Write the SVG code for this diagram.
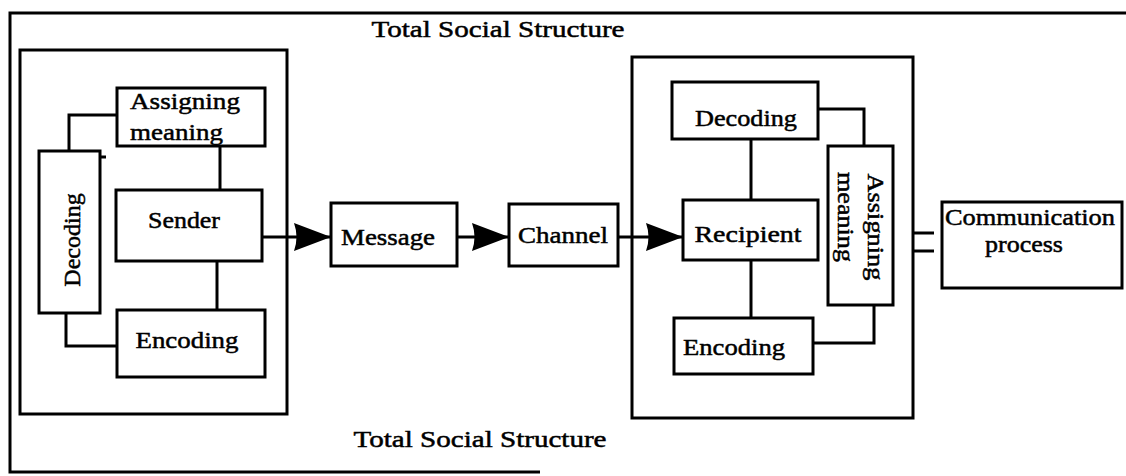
<svg xmlns="http://www.w3.org/2000/svg" width="1126" height="476" viewBox="0 0 1126 476">
<style>
.box{fill:#fff;stroke:#000;stroke-width:3}
.frame{fill:none;stroke:#000;stroke-width:3}
.ln{fill:none;stroke:#000;stroke-width:3}
.t{font-family:"Liberation Serif","Times New Roman",serif;font-size:24px;fill:#000;stroke:#000;stroke-width:0.5}
.c{text-anchor:middle}
</style>
<defs>
<marker id="ah" markerUnits="userSpaceOnUse" markerWidth="40" markerHeight="30" refX="38" refY="15" orient="auto">
<path d="M1,1 L38,15 L1,29 Q6,15 1,1 Z" fill="#000"/>
</marker>
</defs>
<rect width="1126" height="476" fill="#fff"/>
<g id="outer-frame">
<path class="frame" d="M1126,13 L10,13 L10,472 L540,472"/>
<text class="t c" x="498" y="37" font-size="21" textLength="253" lengthAdjust="spacingAndGlyphs">Total Social Structure</text>
<text class="t c" x="480" y="447" font-size="21" textLength="253" lengthAdjust="spacingAndGlyphs">Total Social Structure</text>
</g>
<g id="sender-structure">
<rect class="frame" x="20" y="50" width="267" height="364"/>
</g>
<g id="recipient-structure">
<rect class="frame" x="632" y="57" width="281" height="361"/>
</g>
<g id="connectors">
<path class="ln" d="M69,151 L69,115 L117,115"/>
<path class="ln" d="M66,313 L66,346 L117,346"/>
<path class="ln" d="M220,146 L220,190"/>
<path class="ln" d="M217,261 L217,310"/>
<path class="ln" d="M100,157 L106,157"/>
<path class="ln" d="M262,237 L331,237" marker-end="url(#ah)"/>
<path class="ln" d="M457,237 L509,237" marker-end="url(#ah)"/>
<path class="ln" d="M618,237 L683,237" marker-end="url(#ah)"/>
<path class="ln" d="M751,139 L751,200"/>
<path class="ln" d="M751,260 L751,318"/>
<path class="ln" d="M818,109 L864,109 L864,146"/>
<path class="ln" d="M874,305 L874,343 L813,343"/>
<path class="ln" d="M913,233 L934,233"/>
<path class="ln" d="M913,251 L934,251"/>
</g>
<g id="sender-assigning">
<rect class="box" x="117" y="88" width="148" height="58"/>
<text class="t" x="130" y="109" textLength="110" lengthAdjust="spacingAndGlyphs">Assigning</text>
<text class="t" x="130" y="140" textLength="93" lengthAdjust="spacingAndGlyphs">meaning</text>
</g>
<g id="sender-decoding">
<rect class="box" x="39" y="151" width="61" height="162"/>
<text class="t c" transform="translate(80,240) rotate(-90)" x="0" y="0">Decoding</text>
</g>
<g id="sender">
<rect class="box" x="116" y="190" width="146" height="71"/>
<text class="t c" x="184" y="228" textLength="72" lengthAdjust="spacingAndGlyphs">Sender</text>
</g>
<g id="sender-encoding">
<rect class="box" x="117" y="310" width="148" height="67"/>
<text class="t c" x="187" y="348" textLength="103" lengthAdjust="spacingAndGlyphs">Encoding</text>
</g>
<g id="message">
<rect class="box" x="331" y="203" width="126" height="63"/>
<text class="t c" x="388" y="245" textLength="94" lengthAdjust="spacingAndGlyphs">Message</text>
</g>
<g id="channel">
<rect class="box" x="509" y="204" width="109" height="62"/>
<text class="t c" x="563" y="243" textLength="90" lengthAdjust="spacingAndGlyphs">Channel</text>
</g>
<g id="recipient-decoding">
<rect class="box" x="672" y="82" width="146" height="57"/>
<text class="t c" x="746" y="126" textLength="102" lengthAdjust="spacingAndGlyphs">Decoding</text>
</g>
<g id="recipient">
<rect class="box" x="683" y="200" width="135" height="60"/>
<text class="t c" x="748" y="242" textLength="107" lengthAdjust="spacingAndGlyphs">Recipient</text>
</g>
<g id="recipient-encoding">
<rect class="box" x="674" y="318" width="139" height="56"/>
<text class="t c" x="734" y="355" textLength="102" lengthAdjust="spacingAndGlyphs">Encoding</text>
</g>
<g id="recipient-assigning">
<rect class="box" x="828" y="146" width="65" height="159"/>
<text class="t c" transform="translate(868,227) rotate(90)" x="0" y="0" textLength="107" lengthAdjust="spacingAndGlyphs">Assigning</text>
<text class="t c" transform="translate(838,217) rotate(90)" x="0" y="0" textLength="90" lengthAdjust="spacingAndGlyphs">meaning</text>
</g>
<g id="communication-process">
<rect class="box" x="942" y="202" width="180" height="86"/>
<text class="t c" x="1030" y="225" textLength="170" lengthAdjust="spacingAndGlyphs">Communication</text>
<text class="t c" x="1024" y="252" textLength="78" lengthAdjust="spacingAndGlyphs">process</text>
</g>
</svg>
